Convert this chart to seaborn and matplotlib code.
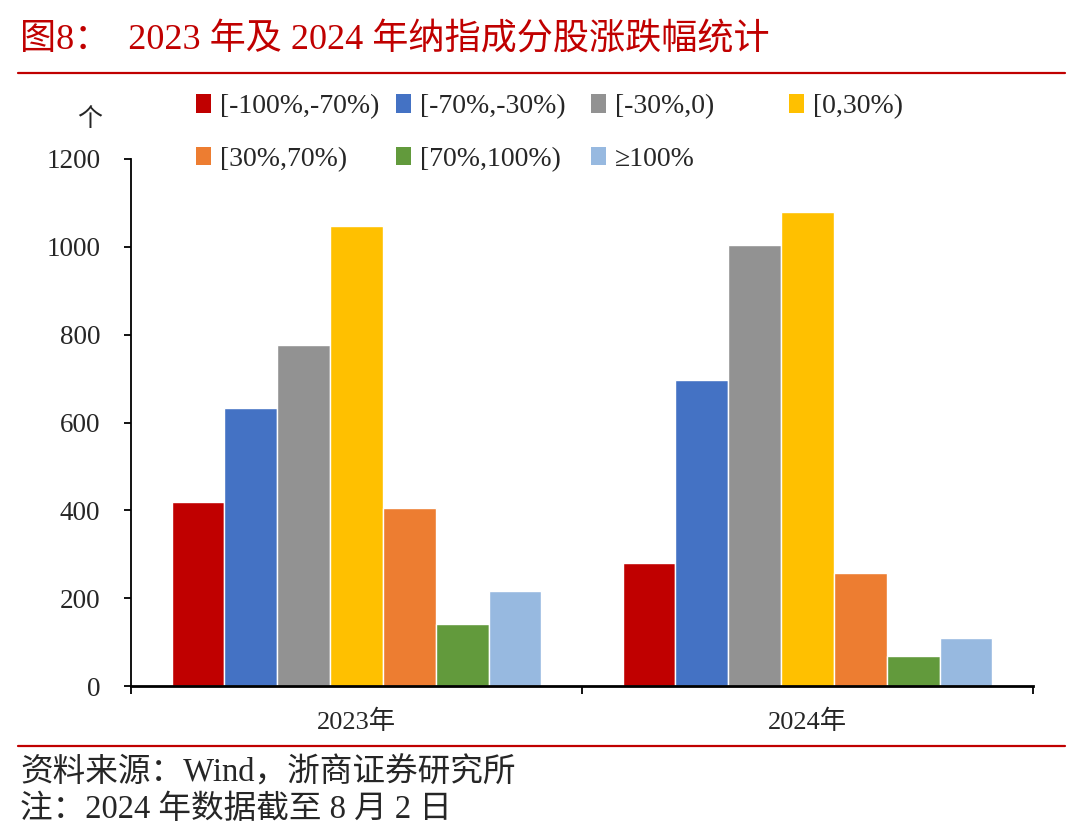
import pandas as pd
import seaborn as sns
import matplotlib.pyplot as plt
from matplotlib.patches import Patch

# data
years = ['2023年', '2024年']
ranges = ['[-100%,-70%)', '[-70%,-30%)', '[-30%,0)', '[0,30%)',
          '[30%,70%)', '[70%,100%)', '≥100%']
counts_2023 = [419, 633, 776, 1047, 405, 141, 216]
counts_2024 = [280, 697, 1004, 1079, 257, 68, 109]
colors = ['#C00000', '#4472C4', '#929292', '#FFC000',
          '#ED7D31', '#629A3C', '#97B9E0']

df = pd.DataFrame({
    'year': [years[0]] * len(ranges) + [years[1]] * len(ranges),
    'range': ranges * 2,
    'count': counts_2023 + counts_2024,
})

sns.set_style('white')
plt.rcParams['font.family'] = ['Liberation Serif', 'Noto Sans CJK SC', 'DejaVu Sans']
plt.rcParams['axes.unicode_minus'] = False

fig = plt.figure(figsize=(10.8, 8.35), dpi=100)
ax = fig.add_axes([131 / 1080, 1 - 686 / 835, 902 / 1080, 527 / 835])

sns.barplot(data=df, x='year', y='count', hue='range', hue_order=ranges,
            palette=colors, width=0.82, gap=0, saturation=1,
            legend=False, ax=ax)

ax.set_xlim(-0.5, 1.5)
ax.set_ylim(0, 1200)
ax.set_yticks(range(0, 1201, 200))
ax.set_xlabel('')
ax.set_ylabel('')
for s in ['top', 'right']:
    ax.spines[s].set_visible(False)
ax.spines['left'].set_color('black')
ax.spines['bottom'].set_color('black')
ax.spines['bottom'].set_linewidth(2)
ax.spines['left'].set_linewidth(1.3)

ax.tick_params(axis='y', direction='out', length=5, width=1.3, color='black',
               left=True, pad=17, labelsize=19.5)
ax.tick_params(axis='x', which='major', length=0, pad=17, labelsize=19)
ax.set_xticks([-0.5, 0.5, 1.5], minor=True)
ax.tick_params(axis='x', which='minor', direction='out', length=6, width=1.3,
               color='black', bottom=True)

# unit label
fig.text(90 / 1080, 1 - 120 / 835, '个', fontsize=18, ha='center', va='center')

# legend: 4 fixed-width columns, two rows
cols = [[0, 4], [1, 5], [2, 6], [3]]
col_x = [196, 396, 591, 789]
for xs, idx in zip(col_x, cols):
    handles = [Patch(facecolor=colors[i], edgecolor='none') for i in idx]
    labels = [ranges[i] for i in idx]
    fig.legend(handles, labels, loc='upper left',
               bbox_to_anchor=(xs / 1080, 1 - 94 / 835),
               frameon=False, fontsize=20, handlelength=0.55, handleheight=0.65,
               handletextpad=0.3, labelspacing=1.0, borderpad=0,
               borderaxespad=0)

# title and footer
fig.text(20 / 1080, 1 - 40 / 835, '图8：  2023 年及 2024 年纳指成分股涨跌幅统计',
         fontsize=26, color='#C00000', ha='left', va='center')
fig.add_artist(plt.Line2D([18 / 1080, 1065 / 1080], [1 - 73 / 835] * 2,
                          color='#C00000', lw=1.6))
fig.add_artist(plt.Line2D([18 / 1080, 1065 / 1080], [1 - 746 / 835] * 2,
                          color='#C00000', lw=1.6))
fig.text(20 / 1080, 1 - 773 / 835, '资料来源：Wind，浙商证券研究所',
         fontsize=23.5, ha='left', va='center')
fig.text(20 / 1080, 1 - 810 / 835, '注：2024 年数据截至 8 月 2 日',
         fontsize=23.5, ha='left', va='center')

plt.savefig('out.png', dpi=100)
